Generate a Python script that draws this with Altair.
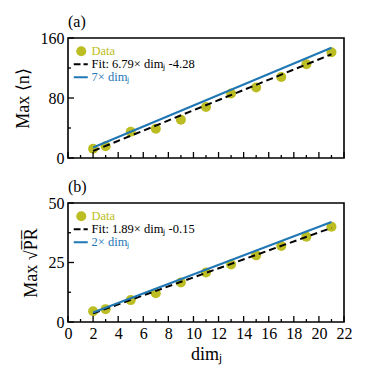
import altair as alt
import pandas as pd

# ---- data ----
dim_j = [2, 3, 5, 7, 9, 11, 13, 15, 17, 19, 21]
max_n = [12.4, 15.6, 35, 39, 51, 68, 86, 94, 108, 125, 141]
max_sqrt_pr = [4.5, 5.4, 9.2, 12.1, 16.6, 20.8, 24.2, 28.0, 31.9, 35.8, 40.0]

fit_n = [6.79, -4.28]        # slope, intercept (panel a)
fit_pr = [1.89, -0.15]       # slope, intercept (panel b)
model_n = 7
model_pr = 2
line_x = [2, 21]

x_major = [0, 2, 4, 6, 8, 10, 12, 14, 16, 18, 20, 22]
x_minor = [1, 3, 5, 7, 9, 11, 13, 15, 17, 19, 21]
ya_major = [0, 80, 160]
ya_minor = [40, 120]
yb_major = [0, 25, 50]
yb_minor = [12.5, 37.5]

OLIVE = "#bcbd22"
BLUE = "#1f77b4"
FONT = "Liberation Serif"
W = 276

DASH_SYM = "M-1.5,-0.2H-0.15V0.2H-1.5Z M0.45,-0.2H1.3V0.2H0.45Z"
LINE_SYM = "M-1.5,-0.2H1.3V0.2H-1.5Z"


def panel(tag, ys, fit, k, fit_label, model_label, ytitle, ymax, ymaj, ymin, H, show_x):
    xs = alt.Scale(domain=[0, 22], nice=False, zero=False)
    ysc = alt.Scale(domain=[0, ymax], nice=False)
    if show_x:
        xaxis = alt.Axis(values=x_major, ticks=False, domain=False, grid=False,
                         title="dimⱼ", labelPadding=3, titlePadding=4, labelFlush=False,
                         labelOverlap=False, labelBound=False)
    else:
        xaxis = None
    yaxis = alt.Axis(values=ymaj, ticks=False, domain=False, grid=False, title=ytitle,
                     labelPadding=4, titlePadding=8, labelFlush=False, labelOverlap=False)

    labels = ["Data", fit_label, model_label]
    color_expr = (f"datum.label == 'Data' ? '{OLIVE}' : "
                  f"(datum.label == '{model_label}' ? '{BLUE}' : 'black')")

    pts = pd.DataFrame({"x": dim_j, "y": ys, "s": ["Data"] * len(dim_j)})
    legend = alt.Legend(title=None, orient="top-left", offset=7, padding=0,
                        labelFont=FONT, labelFontSize=12.5, labelOffset=4,
                        symbolSize=100, rowPadding=0,
                        labelColor={"expr": color_expr})
    points = alt.Chart(pts).mark_point(filled=True, size=100, opacity=1).encode(
        x=alt.X("x:Q", scale=xs, axis=xaxis),
        y=alt.Y("y:Q", scale=ysc, axis=yaxis),
        color=alt.Color("s:N", scale=alt.Scale(domain=labels, range=[OLIVE, "black", BLUE]),
                        legend=legend),
        shape=alt.Shape("s:N", scale=alt.Scale(domain=labels, range=["circle", DASH_SYM, LINE_SYM]),
                        legend=legend),
    )

    fdf = pd.DataFrame({"x": line_x, "y": [fit[0] * v + fit[1] for v in line_x]})
    fitl = alt.Chart(fdf).mark_line(color="black", strokeWidth=2, strokeDash=[7, 4]).encode(
        x=alt.X("x:Q", scale=xs, axis=xaxis),
        y=alt.Y("y:Q", scale=ysc, axis=yaxis),
    )

    mdf = pd.DataFrame({"x": line_x, "y": [k * v for v in line_x]})
    modl = alt.Chart(mdf).mark_line(color=BLUE, strokeWidth=2).encode(
        x=alt.X("x:Q", scale=xs, axis=xaxis),
        y=alt.Y("y:Q", scale=ysc, axis=yaxis),
    )

    def xt(vals, ln):
        return alt.Chart(pd.DataFrame({"v": vals})).mark_rule(color="black", strokeWidth=1.3).encode(
            x=alt.X("v:Q", scale=xs, axis=xaxis), y=alt.value(H), y2=alt.value(H - ln))

    def yt(vals, ln):
        return alt.Chart(pd.DataFrame({"v": vals})).mark_rule(color="black", strokeWidth=1.3).encode(
            y=alt.Y("v:Q", scale=ysc, axis=yaxis), x=alt.value(0), x2=alt.value(ln))

    return alt.layer(points, fitl, modl, xt(x_major, 6), xt(x_minor, 3), yt(ymaj, 6), yt(ymin, 3)).properties(
        width=W, height=H,
        title=alt.TitleParams(tag, anchor="start", frame="group", fontSize=16, font=FONT,
                              fontWeight="normal", offset=0),
    )


top = panel("(a)", max_n, fit_n, model_n, "Fit: 6.79× dimⱼ -4.28", "7× dimⱼ",
            "Max ⟨n⟩", 160, ya_major, ya_minor, 120, False)
bot = panel("(b)", max_sqrt_pr, fit_pr, model_pr, "Fit: 1.89× dimⱼ -0.15", "2× dimⱼ",
            "Max √P̅R̅", 50, yb_major, yb_minor, 119, True)

chart = alt.vconcat(top, bot, spacing=11).resolve_scale(
    color="independent", shape="independent"
).resolve_legend(
    color="independent", shape="independent"
).configure_axis(
    labelFont=FONT, titleFont=FONT, labelFontSize=16, titleFontSize=18,
    titleFontWeight="normal", labelColor="black", titleColor="black",
    labelOverlap=False,
).configure_view(stroke="black", strokeWidth=1.6).configure_legend(
    labelFont=FONT
)

chart.save("out.html", embed_options={"renderer": "svg", "actions": False})
